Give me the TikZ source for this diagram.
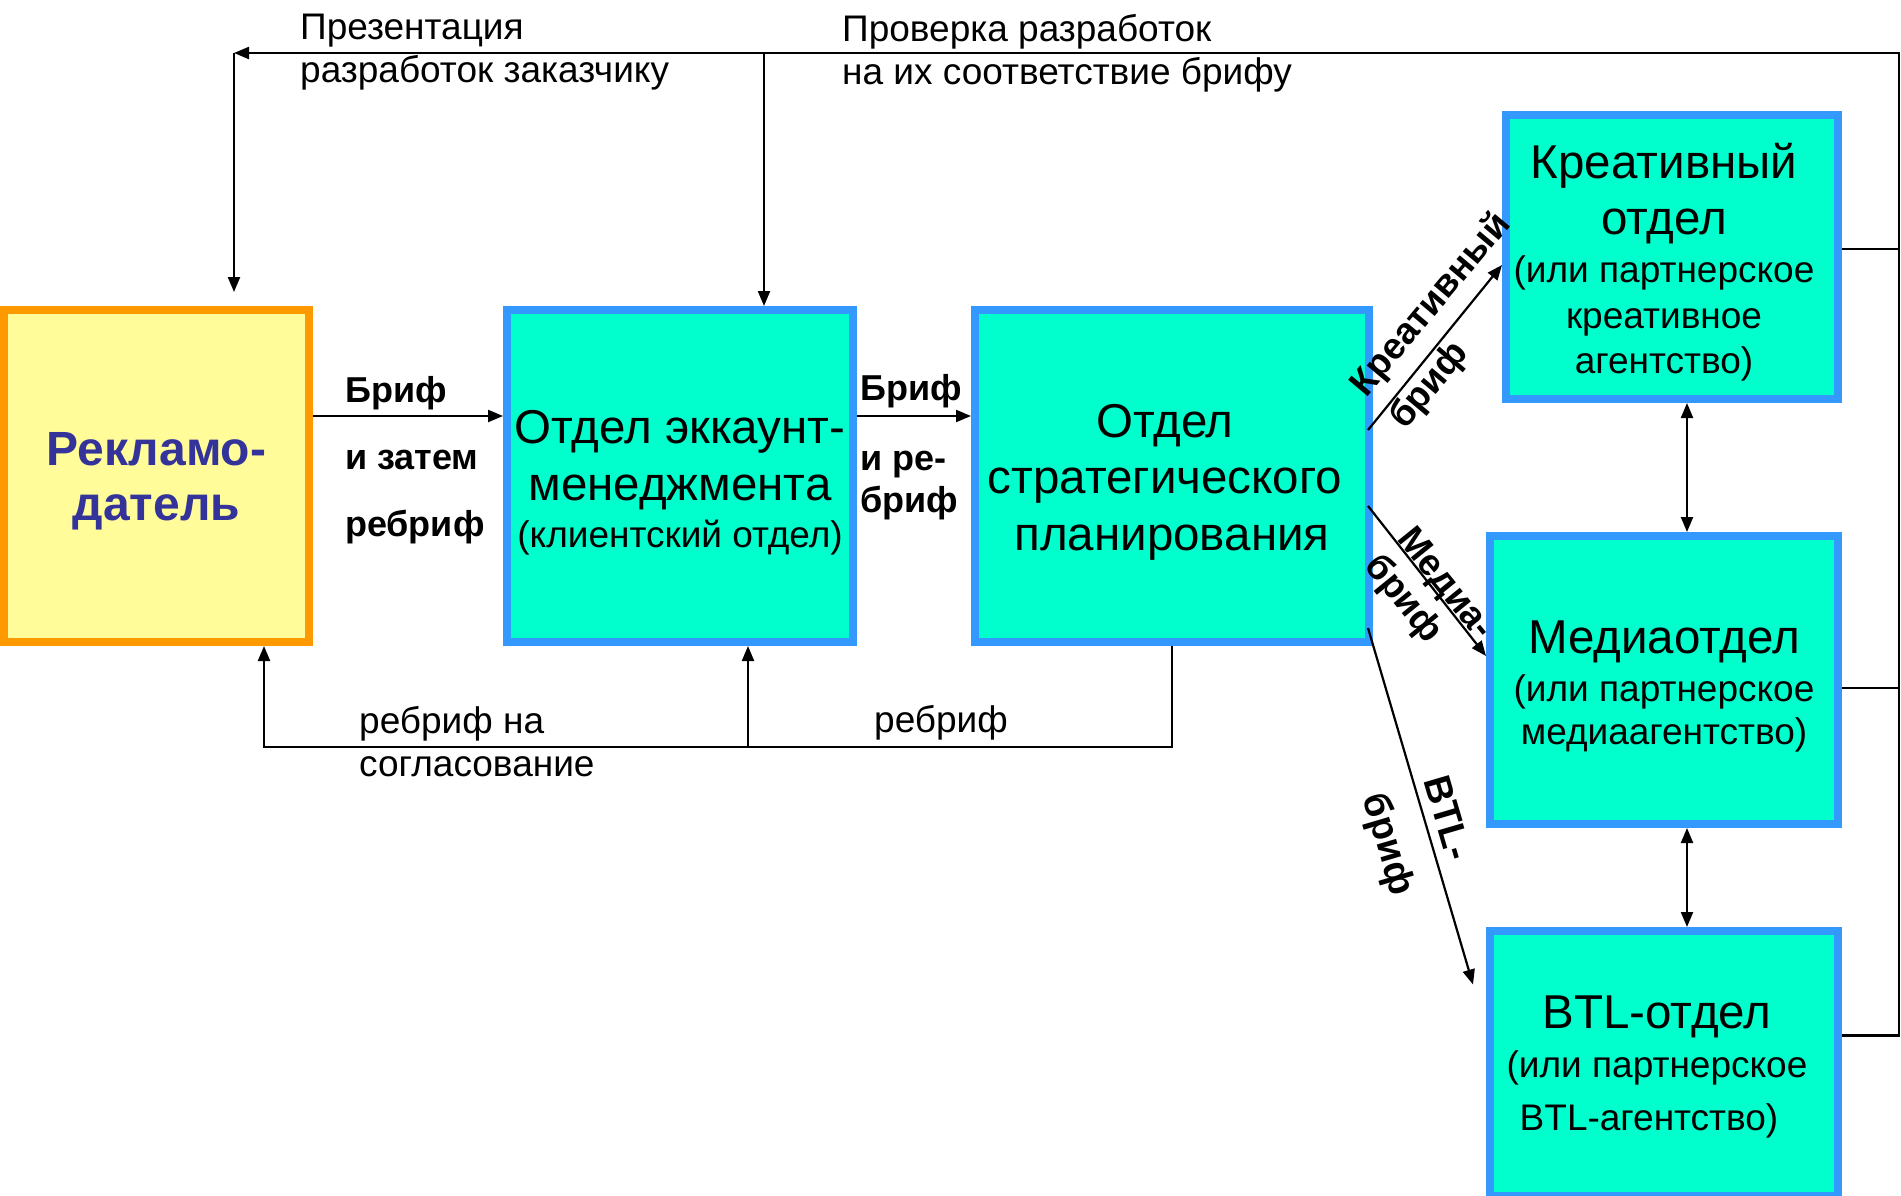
\documentclass[tikz,border=0pt]{standalone}
\usepackage{fontspec}
\setmainfont{Liberation Sans}
\usetikzlibrary{arrows.meta}
\definecolor{boxfill}{HTML}{00FFCC}
\definecolor{boxline}{HTML}{3399FF}
\definecolor{advfill}{HTML}{FFFC99}
\definecolor{advline}{HTML}{FF9900}
\definecolor{advtext}{HTML}{333399}
\newcommand\deptT{\fontsize{47.5}{50}\selectfont}
\begin{document}
\begin{tikzpicture}[x=1pt,y=-1pt,
  dept/.style={draw=boxline, fill=boxfill, line width=8pt, inner sep=0pt, align=center, rectangle,
               font=\fontsize{37}{50}\selectfont},
  conn/.style={line width=2.2pt, draw=black},
  endarrow/.style={-{Triangle[length=15pt,width=12pt]}},
  bothends/.style={{Triangle[length=15pt,width=12pt]}-{Triangle[length=15pt,width=12pt]}},
  lbl/.style={inner sep=0pt, align=left},
]
\useasboundingbox (0,0) rectangle (1901,1196);

% boxes
\node[dept, draw=advline, fill=advfill, text=advtext, font=\bfseries\fontsize{48}{55}\selectfont,
      minimum width=305pt, minimum height=332pt] (adv) at (156.5,476) {\rule{0pt}{44pt}Рекламо-\\датель};
\node[dept, minimum width=346pt, minimum height=332pt] (acct) at (680,476)
  {\deptT\rule{0pt}{47pt}Отдел эккаунт-\\[7pt]\deptT менеджмента\\[-3pt](клиентский отдел)};
\node[dept, minimum width=394pt, minimum height=332pt] (strat) at (1172,476)
  {\deptT\rule{0pt}{45pt}Отдел\kern14pt\\[6.5pt]\deptT стратегического\kern14pt\\[6.5pt]\deptT планирования};
\node[dept, minimum width=332pt, minimum height=284pt] (creative) at (1672,257)
  {\deptT\rule{0pt}{45.6pt}Креативный\kern16pt\\[6pt]\deptT отдел\kern16pt\\[-2pt](или партнерское\kern16pt\\[-4pt]креативное\kern16pt\\[-5pt]агентство)\kern16pt};
\node[dept, minimum width=348pt, minimum height=288pt] (media) at (1664,680)
  {\deptT\rule{0pt}{45pt}Медиаотдел\\[-2pt](или партнерское\\[-7pt]медиаагентство)};
\node[dept, minimum width=348pt, minimum height=265pt] (btl) at (1664,1063.5)
  {\deptT\rule{0pt}{40pt}BTL-отдел\kern14pt\\[-1pt](или партнерское\kern14pt\\[3pt]BTL-агентство)\kern30pt};

% labels
\node[lbl, font=\bfseries\fontsize{36}{67}\selectfont, anchor=north west] (l1) at (345,376) {Бриф\\и затем\\ребриф};
\node[lbl, font=\bfseries\fontsize{36}{42}\selectfont, anchor=north west] (l2) at (860,374) {Бриф\\[28pt]и ре-\\бриф};
\node[lbl, font=\fontsize{37}{43}\selectfont, anchor=north west] (l3) at (300,14) {Презентация\\разработок заказчику};
\node[lbl, font=\fontsize{37}{43}\selectfont, anchor=north west] (l4) at (842,14) {Проверка разработок\\на их соответствие брифу};
\node[lbl, font=\fontsize{37}{43}\selectfont, anchor=north west] (l5) at (359,706.6) {ребриф на\\согласование};
\node[lbl, font=\fontsize{37}{43}\selectfont, anchor=base west] (l6) at (874,732.6) {ребриф};
\node[lbl, font=\bfseries\fontsize{37}{51}\selectfont, rotate=50] (l7) at (1450.8,321.4) {Креативный\\бриф};
\node[lbl, font=\bfseries\fontsize{37}{42}\selectfont, rotate=-51] (l8) at (1428,598.3) {Медиа-\\бриф};
\node[lbl, font=\bfseries\fontsize{38}{63}\selectfont, rotate=-73.6] (l9) at (1416.4,835.9) {BTL-\\бриф};

% helper coordinates
\coordinate (tr) at (1899,53);
\coordinate (tl) at (234,53);
\coordinate (tm) at (764,53);
\coordinate (bl) at (264,747);
\coordinate (bm) at (748,747);
\coordinate (by) at (0,416);
\coordinate (vx) at (1687,0);
\coordinate (ce) at ([yshift=8pt]creative.east);
\coordinate (me) at ([yshift=-8pt]media.east);
\coordinate (be) at ([yshift=28pt]btl.east);
\coordinate (advtop) at ([yshift=14pt]adv.north);
\coordinate (s1) at ([xshift=-5pt,yshift=46pt]strat.east);
\coordinate (s2) at ([xshift=-5pt,yshift=-30pt]strat.east);
\coordinate (s3) at ([xshift=-5pt,yshift=-152pt]strat.east);

% connectors
\draw[conn, endarrow] (adv.east |- by) -- (acct.west |- by);
\draw[conn, endarrow] (acct.east |- by) -- (strat.west |- by);
\draw[conn, endarrow] (be) -| (tr) -- (tl);
\draw[conn] (ce) -- (ce -| tr);
\draw[conn] (me) -- (me -| tr);
\draw[conn, endarrow] (tl) -- (advtop -| tl);
\draw[conn, endarrow] (tm) -- (tm |- acct.north);
\draw[conn, endarrow] (strat.south) |- (bl) -- (bl |- adv.south);
\draw[conn, endarrow] (bm) -- (bm |- acct.south);
\draw[conn, endarrow] (s1) -- ([yshift=-8pt]creative.west);
\draw[conn, endarrow] (s2) -- ([yshift=24pt]media.west);
\draw[conn, endarrow] (s3) -- ([xshift=-13pt,yshift=79pt]btl.west);
\draw[conn, bothends] (creative.south -| vx) -- (media.north -| vx);
\draw[conn, bothends] (media.south -| vx) -- (btl.north -| vx);
\end{tikzpicture}
\end{document}
